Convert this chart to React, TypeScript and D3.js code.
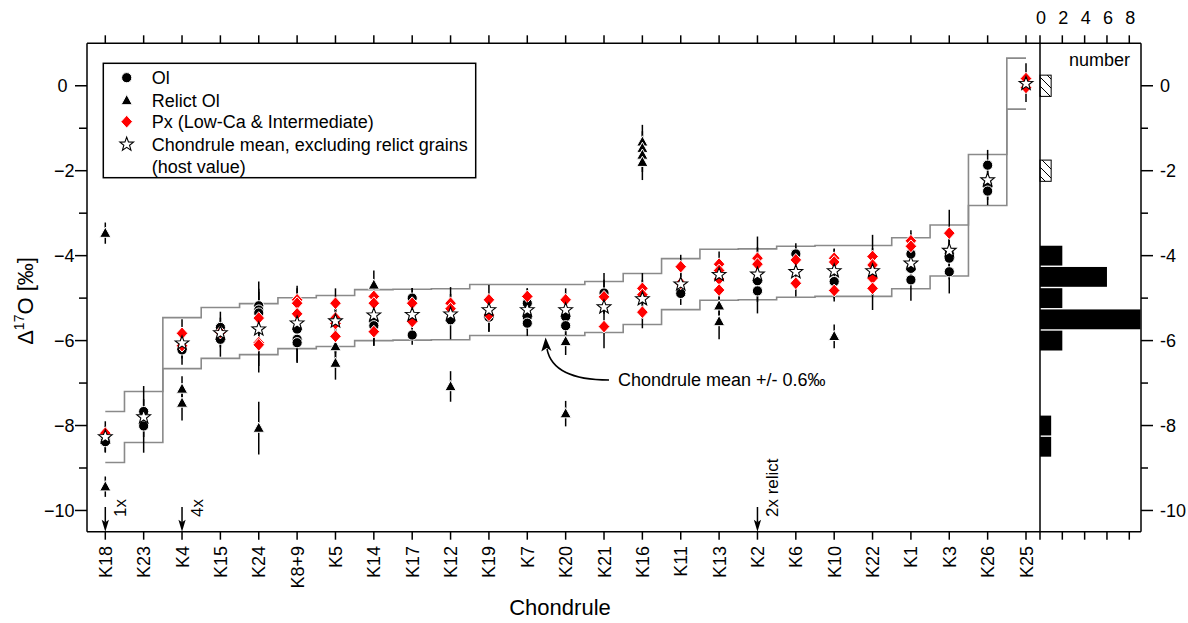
import React from "react";
import * as d3 from "d3";

// ---------- DATA ----------
const CATS = ["K18","K23","K4","K15","K24","K8+9","K5","K14","K17","K12","K19","K7","K20","K21","K16","K11","K13","K2","K6","K10","K22","K1","K3","K26","K25"];

// chondrule mean (host value), one per category
const MEANS = [-8.27,-7.80,-6.06,-5.82,-5.73,-5.59,-5.54,-5.40,-5.39,-5.38,-5.28,-5.28,-5.28,-5.21,-5.02,-4.67,-4.45,-4.44,-4.38,-4.36,-4.36,-4.18,-3.88,-2.22,0.05];
const MEAN_BAND = 0.6;

// [chondrule, value, 2sigma error]
const OL: [string, number, number][] = [
  ["K18",-8.32,0.3],["K18",-8.38,0.26],
  ["K23",-7.67,0.6],["K23",-8.01,0.63],
  ["K4",-6.22,0.35],
  ["K15",-5.69,0.37],["K15",-5.97,0.41],
  ["K24",-5.18,0.57],["K24",-5.28,0.5],["K24",-5.35,0.5],
  ["K8+9",-5.73,0.5],["K8+9",-5.97,0.56],["K8+9",-6.05,0.45],
  ["K14",-5.53,0.45],["K14",-5.65,0.47],
  ["K17",-5.0,0.24],["K17",-5.87,0.23],
  ["K12",-5.51,0.46],
  ["K19",-5.45,0.34],
  ["K7",-5.12,0.35],["K7",-5.44,0.3],["K7",-5.59,0.3],
  ["K20",-5.44,0.3],["K20",-5.65,0.22],
  ["K21",-4.88,0.47],
  ["K11",-4.89,0.27],
  ["K2",-4.59,0.5],["K2",-4.83,0.53],
  ["K6",-3.96,0.25],
  ["K10",-4.61,0.4],
  ["K1",-3.96,0.4],["K1",-4.3,0.4],["K1",-4.57,0.49],
  ["K3",-3.95,0.5],["K3",-4.06,0.5],["K3",-4.38,0.51],
  ["K26",-1.87,0.36],["K26",-2.34,0.35],["K26",-2.48,0.33],
];

const RELICT: [string, number, number][] = [
  ["K18",-3.47,0.25],["K18",-9.44,0.24],
  ["K4",-7.14,0.3],["K4",-7.47,0.41],
  ["K24",-8.06,0.62],
  ["K5",-6.14,0.3],["K5",-6.53,0.39],
  ["K14",-4.69,0.34],
  ["K12",-7.08,0.36],
  ["K20",-6.02,0.32],["K20",-7.72,0.3],
  ["K16",-1.32,0.4],["K16",-1.47,0.4],["K16",-1.63,0.4],["K16",-1.8,0.42],
  ["K13",-5.18,0.4],["K13",-5.55,0.42],
  ["K10",-5.9,0.28],
];

const PX: [string, number, number][] = [
  ["K18",-8.18,0.28],
  ["K4",-5.83,0.33],["K4",-6.12,0.3],
  ["K15",-5.81,0.35],
  ["K24",-5.47,0.4],["K24",-6.05,0.7],["K24",-6.1,0.5],
  ["K8+9",-5.04,0.33],["K8+9",-5.12,0.35],["K8+9",-5.37,0.4],
  ["K5",-5.12,0.35],["K5",-5.47,0.4],["K5",-5.6,0.35],["K5",-5.9,0.4],
  ["K14",-4.96,0.4],["K14",-5.12,0.4],["K14",-5.79,0.33],
  ["K17",-5.12,0.36],["K17",-5.55,0.4],
  ["K12",-5.12,0.38],["K12",-5.25,0.35],
  ["K19",-5.04,0.35],["K19",-5.4,0.39],
  ["K7",-4.96,0.19],
  ["K20",-5.04,0.27],
  ["K21",-4.97,0.4],["K21",-5.67,0.51],
  ["K16",-4.77,0.36],["K16",-4.92,0.35],["K16",-5.33,0.38],
  ["K11",-4.26,0.28],["K11",-4.65,0.3],
  ["K13",-4.2,0.3],["K13",-4.35,0.3],["K13",-4.55,0.3],["K13",-4.81,0.35],
  ["K2",-4.06,0.51],["K2",-4.2,0.4],
  ["K6",-4.1,0.3],["K6",-4.65,0.31],
  ["K10",-4.06,0.23],["K10",-4.15,0.3],["K10",-4.82,0.26],
  ["K22",-4.02,0.51],["K22",-4.22,0.4],["K22",-4.53,0.4],["K22",-4.77,0.51],
  ["K1",-3.65,0.25],["K1",-3.78,0.3],
  ["K3",-3.47,0.55],
  ["K25",0.17,0.36],["K25",-0.04,0.34],
];

// off-scale (below -10.5) analyses
const OFFSCALE_CATS = ["K18","K4","K2"];
const OFFSCALE_LABELS = ["1x","4x","2x relict"];

// histogram of chondrule means (bin width 0.5)
const HIST_CENTERS = [0,-2,-4,-4.5,-5,-5.5,-6,-8,-8.5];
const HIST_COUNTS = [1,1,2,6,2,9,2,1,1];
const HIST_HATCHED = [true,true,false,false,false,false,false,false,false];
const HIST_BIN = 0.5;

const Y_TICKS_MAJOR = [0,-2,-4,-6,-8,-10];
const Y_TICKS_MINOR = [-1,-3,-5,-7,-9];
const HIST_TICKS = [0,2,4,6,8];

// ---------- LAYOUT ----------
const W = 1188, H = 623;
const L = 87, R = 1040, HR = 1141, T = 43.3, B = 531.7;
const FONT = "'Liberation Sans', Arial, Helvetica, sans-serif";

const x = d3.scaleLinear().domain([0, CATS.length - 1]).range([105.3, 1026]);
const y = d3.scaleLinear().domain([-10.5, 1]).range([B, T]);
const hx = d3.scaleLinear().domain([0, 9.05]).range([R, HR]);

const ci = (c: string) => CATS.indexOf(c);

function starPath(cx: number, cy: number, R1: number, r1: number) {
  const pts: string[] = [];
  for (let k = 0; k < 10; k++) {
    const a = -Math.PI / 2 + (k * Math.PI) / 5;
    const rr = k % 2 === 0 ? R1 : r1;
    pts.push(`${(cx + rr * Math.cos(a)).toFixed(2)},${(cy + rr * Math.sin(a)).toFixed(2)}`);
  }
  return "M" + pts.join("L") + "Z";
}
const triPath = (cx: number, cy: number) => `M${cx},${cy - 6}L${cx + 5.6},${cy + 4.2}L${cx - 5.6},${cy + 4.2}Z`;
const diaPath = (cx: number, cy: number) => `M${cx},${cy - 6.4}L${cx + 5.8},${cy}L${cx},${cy + 6.4}L${cx - 5.8},${cy}Z`;

const Circle = ({ cx, cy }: { cx: number; cy: number }) => (
  <circle cx={cx} cy={cy} r={5.1} fill="#000" stroke="#fff" strokeWidth={1} />
);
const Tri = ({ cx, cy }: { cx: number; cy: number }) => (
  <path d={triPath(cx, cy)} fill="#000" stroke="#fff" strokeWidth={1} />
);
const Dia = ({ cx, cy }: { cx: number; cy: number }) => (
  <path d={diaPath(cx, cy)} fill="#ff0000" stroke="#fff" strokeWidth={1} />
);
const Star = ({ cx, cy }: { cx: number; cy: number }) => (
  <path d={starPath(cx, cy, 7.2, 3.0)} fill="#fff" stroke="#000" strokeWidth={1.1} />
);

export default function App() {
  const allPts = [...OL, ...RELICT, ...PX];
  const meanLine = (off: number) =>
    d3
      .line<number>()
      .x((_, i) => x(i))
      .y((m) => y(m + off))
      .curve(d3.curveStep)(MEANS) as string;

  const txt = { fontFamily: FONT, fontSize: 18, fill: "#000" } as const;

  return (
    <svg width={W} height={H} style={{ position: "absolute", left: 0, top: 0, background: "#fff" }}>
      <defs>
        <pattern id="hatch" patternUnits="userSpaceOnUse" width={9} height={9}>
          <path d="M-1,-1L10,10M-1,8L1,10M8,-1L10,1" stroke="#000" strokeWidth={1} />
        </pattern>
      </defs>
      <rect x={0} y={0} width={W} height={H} fill="#fff" />

      {/* mean +/- band */}
      <path d={meanLine(MEAN_BAND)} fill="none" stroke="#8a8a8a" strokeWidth={1.6} />
      <path d={meanLine(-MEAN_BAND)} fill="none" stroke="#8a8a8a" strokeWidth={1.6} />

      {/* error bars */}
      {allPts.map(([c, v, e], k) => (
        <line key={"e" + k} x1={x(ci(c))} x2={x(ci(c))} y1={y(v + e)} y2={y(v - e)} stroke="#000" strokeWidth={1.5} />
      ))}

      {/* markers */}
      {OL.map(([c, v], k) => <Circle key={"o" + k} cx={x(ci(c))} cy={y(v)} />)}
      {RELICT.map(([c, v], k) => <Tri key={"r" + k} cx={x(ci(c))} cy={y(v)} />)}
      {PX.map(([c, v], k) => <Dia key={"p" + k} cx={x(ci(c))} cy={y(v)} />)}
      {MEANS.map((m, i) => <Star key={"s" + i} cx={x(i)} cy={y(m)} />)}

      {/* off-scale arrows */}
      {OFFSCALE_CATS.map((c, k) => {
        const xx = x(ci(c));
        return (
          <g key={"a" + k}>
            <line x1={xx} x2={xx} y1={507} y2={522} stroke="#000" strokeWidth={1.5} />
            <path d={`M${xx},${B}L${xx - 3.6},${B - 12}L${xx},${B - 9.5}L${xx + 3.6},${B - 12}Z`} fill="#000" />
            <text {...txt} fontSize={17} transform={`translate(${xx + 20.5},517) rotate(-90)`} textAnchor="start">
              {OFFSCALE_LABELS[k]}
            </text>
          </g>
        );
      })}

      {/* annotation */}
      <path d="M609,380 Q553,380 547,349" fill="none" stroke="#000" strokeWidth={1.5} />
      <path d="M545.6,337.5L551.5,351L546.8,348L541.3,351.5Z" fill="#000" />
      <text {...txt} x={618} y={386}>Chondrule mean +/- 0.6‰</text>

      {/* histogram */}
      {HIST_CENTERS.map((c, k) => {
        const y0 = y(c + HIST_BIN / 2), y1 = y(c - HIST_BIN / 2);
        return HIST_HATCHED[k] ? (
          <rect key={"h" + k} x={hx(0)} y={y0} width={hx(HIST_COUNTS[k]) - hx(0)} height={y1 - y0}
            fill="url(#hatch)" stroke="#000" strokeWidth={1} />
        ) : (
          <rect key={"h" + k} x={hx(0)} y={y0 + 0.7} width={hx(HIST_COUNTS[k]) - hx(0)} height={y1 - y0 - 1.4} fill="#000" />
        );
      })}

      {/* frame */}
      <g stroke="#000" strokeWidth={1.5} fill="none">
        <line x1={L} x2={HR} y1={T} y2={T} />
        <line x1={L} x2={HR} y1={B} y2={B} />
        <line x1={L} x2={L} y1={T} y2={B} />
        <line x1={R} x2={R} y1={T} y2={B} />
        <line x1={HR} x2={HR} y1={T} y2={B} />
      </g>

      {/* category ticks top & bottom */}
      {CATS.map((c, i) => (
        <g key={"ct" + i} stroke="#000" strokeWidth={1.5}>
          <line x1={x(i)} x2={x(i)} y1={T} y2={T - 8} />
          <line x1={x(i)} x2={x(i)} y1={B} y2={B + 8} />
        </g>
      ))}
      {CATS.map((c, i) => (
        <text key={"cl" + i} {...txt} textAnchor="end" transform={`translate(${x(i) + 6.5},546) rotate(-90)`}>
          {c}
        </text>
      ))}

      {/* histogram ticks */}
      {HIST_TICKS.map((t) => (
        <g key={"ht" + t}>
          <line x1={hx(t)} x2={hx(t)} y1={T} y2={T - 8} stroke="#000" strokeWidth={1.5} />
          <line x1={hx(t)} x2={hx(t)} y1={B} y2={B + 8} stroke="#000" strokeWidth={1.5} />
          <text {...txt} x={hx(t) + 1} y={24} textAnchor="middle">{t}</text>
        </g>
      ))}
      <text {...txt} x={1130} y={66} textAnchor="end">number</text>

      {/* y ticks left & right */}
      {Y_TICKS_MAJOR.map((t) => (
        <g key={"yt" + t}>
          <line x1={L} x2={L - 12} y1={y(t)} y2={y(t)} stroke="#000" strokeWidth={1.5} />
          <line x1={HR} x2={HR + 12} y1={y(t)} y2={y(t)} stroke="#000" strokeWidth={1.5} />
          <text {...txt} x={t === 0 ? 67.5 : 74.5} y={y(t) + 6.5} textAnchor="end">
            {t === 0 ? "0" : "\u2212" + Math.abs(t)}
          </text>
          <text {...txt} x={1160} y={y(t) + 6.5} textAnchor="start">
            {String(t)}
          </text>
        </g>
      ))}
      {Y_TICKS_MINOR.map((t) => (
        <g key={"ym" + t} stroke="#000" strokeWidth={1.5}>
          <line x1={L} x2={L - 8} y1={y(t)} y2={y(t)} />
          <line x1={HR} x2={HR + 7} y1={y(t)} y2={y(t)} />
        </g>
      ))}

      {/* axis titles */}
      <text {...txt} fontSize={22} x={560} y={615} textAnchor="middle">Chondrule</text>
      <text {...txt} fontSize={22} textAnchor="middle" transform="translate(33,301) rotate(-90)">
        Δ<tspan fontSize={14} dy={-9}>17</tspan><tspan dy={9}>O [‰]</tspan>
      </text>

      {/* legend */}
      <rect x={103.3} y={63.3} width={372.4} height={114.4} fill="#fff" stroke="#000" strokeWidth={1.5} />
      <Circle cx={126.7} cy={77.7} />
      <Tri cx={126.7} cy={100.5} />
      <Dia cx={126.7} cy={121.7} />
      <Star cx={126.7} cy={144.3} />
      <text {...txt} x={151.7} y={84}>Ol</text>
      <text {...txt} x={151.7} y={106.5}>Relict Ol</text>
      <text {...txt} x={151.7} y={128}>Px (Low-Ca &amp; Intermediate)</text>
      <text {...txt} x={151.7} y={150.5}>Chondrule mean, excluding relict grains</text>
      <text {...txt} x={151.7} y={173}>(host value)</text>
    </svg>
  );
}
